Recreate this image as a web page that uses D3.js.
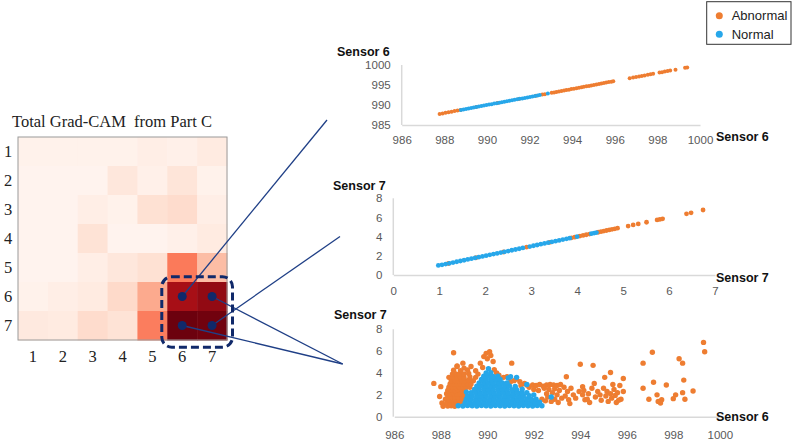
<!DOCTYPE html>
<html><head><meta charset="utf-8">
<script src="https://cdn.jsdelivr.net/npm/d3@7"></script>
<style>body{margin:0;background:#fff}svg{display:block}</style>
</head><body><svg id="c" width="800" height="448"></svg>
<script>
// ---------- DATA ----------
const heatTitle = "Total Grad-CAM  from Part C";
const heatRows = ["1","2","3","4","5","6","7"];
const heatCols = ["1","2","3","4","5","6","7"];
const gradcam = [
  [0.02,0.02,0.02,0.02,0.04,0.03,0.06],
  [0.01,0.01,0.01,0.08,0.03,0.09,0.02],
  [0.01,0.01,0.04,0.02,0.11,0.13,0.04],
  [0.01,0.01,0.10,0.01,0.01,0.03,0.06],
  [0.01,0.01,0.04,0.08,0.11,0.45,0.24],
  [0.02,0.04,0.06,0.14,0.30,0.86,0.91],
  [0.07,0.06,0.13,0.10,0.44,0.99,0.98]
];
const highlighted = [["6","6"],["6","7"],["7","6"],["7","7"]];
const legendLabels = ["Abnormal","Normal"];

// Plot 1: Sensor 6 vs Sensor 6
const p1XTicks = [986,988,990,992,994,996,998,1000];
const p1YTicks = [985,990,995,1000];
const p1Abnormal = [
[987.78,987.75],[987.92,987.9],[988.06,988.05],[988.2,988.2],[988.34,988.32],[988.48,988.47],[988.62,988.6],[988.76,988.74],
[989.5,989.5],[990.5,990.5],[991.5,991.5],[992.3,992.3],[992.6,992.6],[992.72,992.7],
[993.04,993.05],[993.15,993.14],[993.26,993.27],[993.38,993.36],[993.5,993.5],[993.62,993.6],[993.73,993.74],[993.85,993.84],
[993.96,993.97],[994.08,994.07],[994.2,994.2],[994.32,994.3],[994.44,994.45],[994.55,994.54],[994.67,994.68],[994.79,994.78],
[994.9,994.9],[995.02,995.02],[995.14,995.13],[995.26,995.27],[995.37,995.36],[995.49,995.5],[995.6,995.6],[995.72,995.73],
[995.84,995.83],[995.93,995.95],
[996.7,996.68],[996.86,996.87],[997.0,997.0],[997.14,997.13],[997.27,997.28],[997.4,997.4],[997.55,997.54],[997.68,997.7],[997.8,997.8],
[998.1,998.1],[998.22,998.2],[998.35,998.36],[998.48,998.47],[998.6,998.6],[998.85,998.84],[999.3,999.32],[999.4,999.38]
];
const p1Normal = [
[988.78,988.76],[988.9,988.9],[989.02,989.02],[989.14,989.13],[989.26,989.27],[989.38,989.37],[989.5,989.5],[989.62,989.6],
[989.74,989.75],[989.86,989.85],[989.98,989.98],[990.1,990.1],[990.22,990.21],[990.34,990.35],[990.46,990.45],[990.58,990.58],
[990.7,990.7],[990.82,990.81],[990.94,990.95],[991.06,991.05],[991.18,991.18],[991.3,991.3],[991.42,991.41],[991.54,991.55],
[991.66,991.65],[991.78,991.78],[991.9,991.9],[992.02,992.01],[992.14,992.15],[992.26,992.25],[992.38,992.4],[992.48,992.5],[992.86,992.88]
];

// Plot 2: Sensor 7 vs Sensor 7
const p2XTicks = [0,1,2,3,4,5,6,7];
const p2YTicks = [0,2,4,6,8];
const p2Abnormal = [
[1.2,1.2],[1.8,1.8],[2.4,2.4],[2.9,2.9],[3.4,3.4],[3.88,3.88],[3.95,3.95],[4.06,4.06],[4.13,4.13],[4.2,4.2],[4.27,4.27],
[4.46,4.46],[4.52,4.52],[4.58,4.58],[4.64,4.64],[4.7,4.7],[4.76,4.76],[4.82,4.82],[4.88,4.88],
[5.11,5.1],[5.22,5.22],[5.33,5.33],[5.51,5.5],[5.74,5.74],[5.8,5.8],[5.86,5.86],[6.38,6.38],[6.48,6.48],[6.74,6.78]
];
const p2Normal = [
[0.98,1.0],[1.06,1.06],[1.14,1.14],[1.22,1.22],[1.3,1.3],[1.38,1.38],[1.46,1.46],[1.54,1.54],[1.62,1.62],[1.7,1.7],
[1.78,1.78],[1.86,1.86],[1.94,1.94],[2.02,2.02],[2.1,2.1],[2.18,2.18],[2.26,2.26],[2.34,2.34],[2.42,2.42],[2.5,2.5],
[2.58,2.58],[2.66,2.66],[2.74,2.74],[2.82,2.82],
[2.97,2.97],[3.05,3.05],[3.13,3.13],[3.21,3.21],[3.29,3.29],[3.37,3.37],[3.45,3.45],[3.53,3.53],[3.61,3.61],[3.69,3.69],[3.77,3.77],[3.84,3.84],
[4.0,4.0],[4.31,4.31],[4.37,4.37],[4.42,4.42]
];

// Plot 3: Sensor 6 (x) vs Sensor 7 (y)
const p3XTicks = [986,988,990,992,994,996,998,1000];
const p3YTicks = [0,2,4,6,8];
const p3Abnormal = [
[987.7,3.05],[988.0,2.75],[987.95,1.85],[988.05,1.25],[988.1,0.95],[988.2,1.6],[988.25,2.1],
[988.3,0.97],[988.45,1.0],[988.6,0.96],[988.25,1.22],[988.4,1.19],[988.55,1.23],[988.7,1.2],[988.85,1.18],
[988.35,1.52],[988.5,1.48],[988.65,1.5],[988.8,1.53],[988.95,1.49],[988.3,1.8],[988.45,1.82],[988.6,1.78],[988.75,1.81],
[988.9,1.79],[989.05,1.83],[988.4,2.1],[988.55,2.12],[988.7,2.08],[988.85,2.11],[989.0,2.09],[988.3,2.4],[988.45,2.42],
[988.6,2.38],[988.75,2.41],[988.9,2.39],[989.05,2.43],[988.35,2.7],[988.5,2.72],[988.65,2.68],[988.8,2.71],[988.95,2.69],
[989.1,2.73],[989.25,2.7],[988.4,3.0],[988.55,3.02],[988.7,2.98],[988.85,3.01],[989.0,2.99],[989.15,3.03],[989.3,3.0],
[988.45,3.3],[988.6,3.32],[988.75,3.28],[988.9,3.31],[989.05,3.29],[989.2,3.33],[989.4,3.3],[988.35,3.6],[988.55,3.62],
[988.7,3.58],[988.85,3.61],[989.0,3.59],[989.25,3.63],[989.5,3.6],[988.5,3.9],[988.65,3.92],[988.8,3.88],[989.0,3.91],
[989.2,3.95],[988.55,4.25],[988.85,4.22],[989.15,4.28],[988.7,4.6],
[988.55,5.85],[988.7,4.65],[988.95,4.9],[989.0,4.45],[989.3,4.6],[989.5,4.2],[989.7,4.9],[989.85,5.5],[989.95,5.8],
[990.1,5.95],[990.0,5.3],[990.25,5.05],[990.3,4.3],[989.6,3.9],[989.8,4.5],[990.15,5.6],[990.4,4.0],[990.5,3.8],
[990.7,3.6],[990.85,3.65],[991.05,4.9],[991.25,3.45],[991.0,3.2],[991.15,3.3],[991.4,3.2],[991.6,3.05],[991.7,2.9],[991.45,2.85],
[991.8,2.7],[991.95,2.9],[992.1,2.85],[992.25,2.95],[992.4,2.8],[992.55,2.9],[992.7,2.95],[992.85,2.9],[993.0,2.85],[993.15,2.95],
[992.0,2.5],[992.2,2.4],[992.45,2.6],[992.65,2.5],[992.9,2.55],[993.1,2.4],[992.55,2.1],[992.8,2.2],[993.0,2.0],[992.6,1.8],
[992.9,1.6],[993.2,1.7],[992.5,1.45],[993.05,1.3],[992.75,1.4],[991.9,1.3],[992.2,1.2],[992.35,1.6],
[993.4,3.65],[993.3,2.7],[993.45,2.3],[993.35,1.9],[993.5,1.55],[993.6,2.6],[993.7,2.0],[993.55,1.2],[993.8,1.7],
[994.0,4.8],[994.55,4.7],[994.1,2.75],[994.15,2.4],[994.1,2.0],[994.2,1.55],[993.95,2.3],[994.35,2.1],[994.4,1.3],
[994.5,2.6],[994.6,3.05],[994.65,1.8],[994.75,2.3],[994.85,2.0],[994.9,1.5],[995.0,2.6],[995.05,3.6],[995.1,1.9],
[995.15,2.3],[995.2,1.4],[995.3,4.05],[995.3,2.1],[995.35,1.7],[995.45,2.5],[995.5,1.95],[995.55,1.3],[995.6,2.2],
[995.7,2.85],[995.75,1.6],[995.85,3.5],[995.85,2.3],[995.65,1.5],[994.3,1.6],[995.4,2.95],
[996.7,4.9],[997.1,5.9],[998.25,5.3],[998.4,4.9],[999.3,6.8],[999.35,5.95],[996.7,2.6],[997.15,3.15],[996.95,1.6],
[997.3,2.0],[997.5,1.55],[997.45,1.25],[997.7,2.9],[998.1,2.0],[998.4,2.2],[998.5,1.6],[998.45,3.35],[998.85,2.35],
[998.0,1.65],[997.35,1.4]
];
const p3Normal = [
[988.75,1.0],[988.95,0.98],[989.15,1.02],[989.35,1.0],[989.55,0.98],[989.75,1.02],[989.95,1.0],[990.15,0.98],[990.35,1.02],
[990.55,1.0],[990.75,0.98],[990.95,1.02],[991.15,1.0],[991.35,0.98],[991.55,1.02],[991.75,1.0],[991.95,0.98],[992.15,1.02],[992.35,1.0],
[989.05,1.3],[989.25,1.32],[989.45,1.28],[989.65,1.3],[989.85,1.32],[990.05,1.28],[990.25,1.3],[990.45,1.32],[990.65,1.28],
[990.85,1.3],[991.05,1.32],[991.25,1.28],[991.45,1.3],[991.65,1.32],[991.85,1.28],[992.05,1.3],[992.25,1.32],
[989.1,1.6],[989.3,1.62],[989.5,1.58],[989.7,1.6],[989.9,1.62],[990.1,1.58],[990.3,1.6],[990.5,1.62],[990.7,1.58],
[990.9,1.6],[991.1,1.62],[991.3,1.58],[991.5,1.6],[991.7,1.62],[991.9,1.58],[992.1,1.6],
[989.15,1.9],[989.35,1.92],[989.55,1.88],[989.75,1.9],[989.95,1.92],[990.15,1.88],[990.35,1.9],[990.55,1.92],[990.75,1.88],
[990.95,1.9],[991.15,1.92],[991.35,1.88],[991.55,1.9],[991.8,1.92],
[989.1,2.25],[989.3,2.2],[989.5,2.22],[989.7,2.18],[989.9,2.2],[990.1,2.22],[990.3,2.18],[990.5,2.2],[990.7,2.22],
[990.9,2.18],[991.1,2.2],[991.3,2.22],[991.5,2.18],[991.7,2.2],
[989.45,2.5],[989.65,2.52],[989.85,2.48],[990.05,2.5],[990.25,2.52],[990.45,2.48],[990.65,2.5],[990.85,2.52],[991.05,2.48],
[991.25,2.5],[991.5,2.52],
[989.55,2.8],[989.75,2.82],[989.95,2.78],[990.15,2.8],[990.35,2.82],[990.55,2.78],[990.75,2.8],[990.95,2.82],[991.2,2.78],
[989.65,3.1],[989.85,3.12],[990.05,3.08],[990.25,3.1],[990.45,3.12],[990.65,3.08],[990.85,3.1],
[989.75,3.4],[989.95,3.42],[990.15,3.38],[990.35,3.4],[990.55,3.42],
[989.85,3.7],[990.05,3.72],[990.25,3.68],[990.45,3.7],
[989.95,4.0],[990.15,4.02],[990.05,4.4],
[990.9,3.55],[991.0,3.65],[991.26,3.6],[991.7,2.95],[992.0,2.0],[992.75,1.8]
];

// ---------- DRAW ----------
const svg = d3.select("#c");
const ORANGE = "#ee7d31", BLUE = "#27a7ea", NAVY = "#10296a", LINE = "#1f3f86";

// Heatmap
const hx = d3.scaleBand().domain(heatCols).range([18, 227]);
const hy = d3.scaleBand().domain(heatRows).range([137, 340]);
const heatColor = d3.scaleSequential(d3.interpolateReds).domain([0, 1]);
const hg = svg.append("g");
gradcam.forEach((row, i) => {
  hg.selectAll(null).data(row).enter().append("rect")
    .attr("x", (d, j) => hx(heatCols[j]))
    .attr("y", hy(heatRows[i]))
    .attr("width", hx.bandwidth() + 0.5)
    .attr("height", hy.bandwidth() + 0.5)
    .attr("fill", d => heatColor(d));
});
hg.append("rect").attr("x", 18).attr("y", 137).attr("width", 209).attr("height", 203)
  .attr("fill", "none").attr("stroke", "#9a9a9a").attr("stroke-width", 1);

const serif = "'Liberation Serif','Times New Roman',serif";
svg.append("text").attr("x", 12).attr("y", 127).text(heatTitle)
  .style("white-space", "pre").attr("font-family", serif).attr("font-size", 16.5).attr("fill", "#222");
svg.selectAll(".rl").data(heatRows).enter().append("text")
  .attr("x", 8).attr("y", d => hy(d) + hy.bandwidth() / 2).attr("dy", "0.35em")
  .attr("text-anchor", "middle").attr("font-family", serif).attr("font-size", 16.5).attr("fill", "#222").text(d => d);
svg.selectAll(".cl").data(heatCols).enter().append("text")
  .attr("x", d => hx(d) + hx.bandwidth() / 2).attr("y", 362)
  .attr("text-anchor", "middle").attr("font-family", serif).attr("font-size", 16.5).attr("fill", "#222").text(d => d);

// connectors
const targets = [[327, 120], [342.7, 364], [342.7, 364], [340, 236.5]];
const cx = c => hx(c) + hx.bandwidth() / 2, cy = r => hy(r) + hy.bandwidth() / 2;
highlighted.forEach(([r, c], i) => {
  svg.append("line").attr("x1", cx(c)).attr("y1", cy(r)).attr("x2", targets[i][0]).attr("y2", targets[i][1])
    .attr("stroke", LINE).attr("stroke-width", 1.3);
});
highlighted.forEach(([r, c]) => {
  svg.append("circle").attr("cx", cx(c)).attr("cy", cy(r)).attr("r", 4.5).attr("fill", NAVY);
});
svg.append("rect")
  .attr("x", hx("6") - 5.5).attr("y", hy("6") - 5.3)
  .attr("width", hx.bandwidth() * 2 + 11).attr("height", hy.bandwidth() * 2 + 12.5)
  .attr("rx", 10).attr("fill", "none").attr("stroke", NAVY).attr("stroke-width", 3)
  .attr("stroke-dasharray", "8,4");

// Scatter plots
const sans = "'Liberation Sans',Arial,sans-serif";
function scatter(cfg) {
  const x = d3.scaleLinear().domain(cfg.xd).range(cfg.xr);
  const y = d3.scaleLinear().domain(cfg.yd).range(cfg.yr);
  const g = svg.append("g");
  const ax = g.append("g").attr("transform", `translate(0,${cfg.yr[0]})`)
    .call(d3.axisBottom(x).tickValues(cfg.xt).tickSize(0).tickSizeOuter(0).tickPadding(cfg.xp).tickFormat(d3.format("d")));
  const ay = g.append("g").attr("transform", `translate(${cfg.yax},0)`)
    .call(d3.axisLeft(y).tickValues(cfg.yt).tickSize(0).tickSizeOuter(0).tickPadding(cfg.yp).tickFormat(d3.format("d")));
  [ax, ay].forEach(a => {
    a.select(".domain").attr("stroke", "#d9d9d9").attr("stroke-width", 1.5);
    a.selectAll("text").attr("fill", "#595959").attr("font-family", sans).attr("font-size", 11.5);
  });
  ay.select(".domain").attr("d", `M0,${cfg.yr[0]}V${cfg.yr[1]}`);
  g.selectAll(".a").data(cfg.abn).enter().append("circle")
    .attr("cx", d => x(d[0])).attr("cy", d => y(d[1])).attr("r", cfg.r).attr("fill", ORANGE);
  g.selectAll(".n").data(cfg.nor).enter().append("circle")
    .attr("cx", d => x(d[0])).attr("cy", d => y(d[1])).attr("r", cfg.r).attr("fill", BLUE);
  g.append("text").attr("x", cfg.tx).attr("y", cfg.ty).text(cfg.title)
    .attr("font-family", sans).attr("font-weight", "bold").attr("font-size", 12.5).attr("fill", "#111");
  g.append("text").attr("x", 716).attr("y", cfg.ly).text(cfg.xlabel)
    .attr("font-family", sans).attr("font-weight", "bold").attr("font-size", 12.5).attr("fill", "#111");
}
scatter({xd: [986, 1000], xr: [401.7, 700], yd: [985, 1000], yr: [125, 65], yax: 401.7,
  xt: p1XTicks, yt: p1YTicks, xp: 11, yp: 11, r: 2, abn: p1Abnormal, nor: p1Normal,
  title: "Sensor 6", tx: 337, ty: 55.5, xlabel: "Sensor 6", ly: 141});
scatter({xd: [0, 7], xr: [393.3, 715], yd: [0, 8], yr: [275, 198.3], yax: 393.3,
  xt: p2XTicks, yt: p2YTicks, xp: 11.5, yp: 11, r: 2.4, abn: p2Abnormal, nor: p2Normal,
  title: "Sensor 7", tx: 333, ty: 189.5, xlabel: "Sensor 7", ly: 282});
scatter({xd: [986, 1000], xr: [394.3, 719.8], yd: [0, 8], yr: [416.7, 329.3], yax: 393.3,
  xt: p3XTicks, yt: p3YTicks, xp: 14, yp: 11, r: 2.7, abn: p3Abnormal, nor: p3Normal,
  title: "Sensor 7", tx: 334, ty: 318.5, xlabel: "Sensor 6", ly: 421});

// Legend
const lg = svg.append("g");
lg.append("rect").attr("x", 706.7).attr("y", 1.7).attr("width", 84.3).attr("height", 42.6)
  .attr("fill", "#fff").attr("stroke", "#333").attr("stroke-width", 1);
lg.selectAll(".li").data(legendLabels).enter().append("circle")
  .attr("cx", 719.3).attr("cy", (d, i) => 15.7 + i * 18.6).attr("r", 3.5)
  .attr("fill", (d, i) => i === 0 ? ORANGE : BLUE);
lg.selectAll(".lt").data(legendLabels).enter().append("text")
  .attr("x", 731.7).attr("y", (d, i) => 15.7 + i * 18.6).attr("dy", "0.35em")
  .attr("font-family", sans).attr("font-size", 13).attr("fill", "#222").text(d => d);
</script></body></html>
